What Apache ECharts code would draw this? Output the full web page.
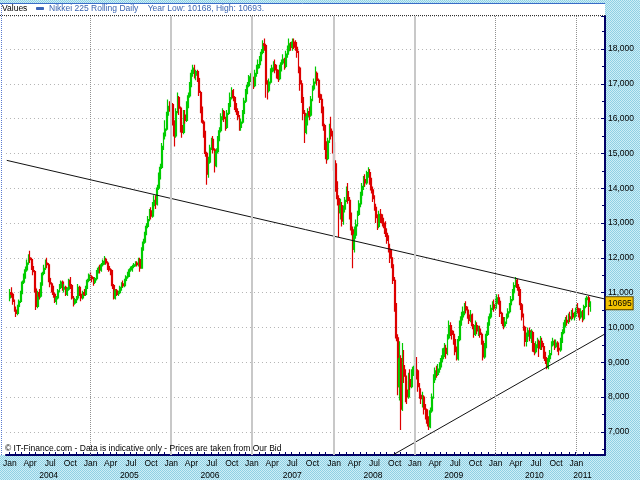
<!DOCTYPE html>
<html><head><meta charset="utf-8">
<script src="https://cdn.jsdelivr.net/npm/echarts@6/dist/echarts.min.js"></script>
<style>html,body{margin:0;padding:0;background:#fff}#c{width:640px;height:480px}</style>
</head><body><div id="c"></div>
<script>
// ---- text ----
const axisTitle = 'Values';
const seriesName = 'Nikkei 225 Rolling Daily';
const legendInfo = 'Year Low: 10168, High: 10693.';
const footer = '\u00A9 IT-Finance.com - Data is indicative only - Prices are taken from Our Bid';
const monthNames = ['Jan','Feb','Mar','Apr','May','Jun','Jul','Aug','Sep','Oct','Nov','Dec'];
const labelMonths = [0,3,6,9];
// ---- axis ----
const firstWeek = '2003-12-22';
const weekCount = 386;
const leadingEmpty = 2;
const yMin = 6333, yMax = 18948, yStep = 1000;
const solidGridYears = [2006,2007,2008,2009];
const dottedGridYears = [2005,2010,2011];
// ---- weekly OHLC  [open, close, low, high] ----
const w2004 = [[10850,11000,10750,11100],[11000,10950,10850,11150],[10950,10750,10650,11000],[10750,10500,10450,10800],[10500,10400,10300,10600],[10400,10600,10350,10650],[10600,10750,10550,10800],[10750,11000,10700,11050],[11000,11300,10950,11350],[11300,11500,11250,11550],
[11500,11650,11400,11750],[11650,11850,11600,11950],[11850,12000,11800,12100],[12000,11950,11850,12200],[11950,11750,11650,12000],[11750,11600,11500,11850],[11600,11100,11000,11650],[11100,10600,10500,11150],[10600,11000,10550,11050],[11000,10900,10800,11100],
[10900,11250,10850,11300],[11250,11550,11200,11600],[11550,11700,11500,11800],[11700,11850,11650,11950],[11850,11800,11700,12000],[11800,11400,11300,11850],[11400,11250,11150,11450],[11250,11100,11000,11300],[11100,10950,10850,11200],[10950,10750,10700,11000],
[10750,10850,10650,10900],[10850,11050,10800,11100],[11050,11150,11000,11250],[11150,11300,11100,11350],[11300,11100,11050,11350],[11100,11150,11000,11250],[11150,10950,10900,11200],[10950,11100,10900,11150],[11100,11350,11050,11400],[11350,11200,11100,11450],
[11200,10850,10800,11250],[10850,10700,10600,10900],[10700,10800,10650,10850],[10800,10850,10700,10900],[10850,11150,10800,11250],[11150,10950,10900,11200],[10950,10850,10750,11000],[10850,11000,10800,11050],[11000,10950,10900,11100],[10950,11150,10900,11200],
[11150,11350,11100,11400],[11350,11500,11300,11550]];
const w2005 = [[11500,11450,11350,11600],[11450,11400,11300,11500],[11400,11300,11200,11450],[11300,11400,11250,11450],[11400,11600,11350,11650],[11600,11700,11550,11750],[11700,11650,11550,11800],[11650,11800,11600,11850],[11800,11900,11750,11950],[11900,11950,11800,12050],
[11950,11850,11800,12000],[11850,11750,11650,11900],[11750,11650,11600,11800],[11650,11600,11500,11700],[11600,11200,11100,11650],[11200,10850,10800,11250],[10850,11050,10800,11100],[11050,10950,10900,11100],[10950,11000,10900,11050],[11000,11150,10950,11200],
[11150,11250,11050,11300],[11250,11200,11150,11350],[11200,11350,11150,11400],[11350,11450,11300,11500],[11450,11550,11400,11600],[11550,11650,11450,11700],[11650,11700,11600,11750],[11700,11750,11600,11800],[11750,11800,11700,11850],[11800,11850,11750,11900],
[11850,11800,11750,11900],[11800,11950,11750,12000],[11950,11700,11600,12000],[11700,12250,11700,12300],[12250,12450,12200,12550],[12450,12700,12400,12750],[12700,12900,12650,13000],[12900,13100,12850,13200],[13100,13350,13050,13400],[13350,13200,13100,13450],
[13200,13500,13150,13600],[13500,13650,13300,13800],[13650,13550,13400,13800],[13550,14000,13500,14100],[14000,14350,13950,14450],[14350,14600,14250,14700],[14600,15200,14550,15300],[15200,15500,15100,15600],[15500,15700,15400,15950],[15700,16100,15650,16200],
[16100,16350,16000,16550],[16350,16300,16200,16500]];
const w2006 = [[16350,16400,16250,16500],[16400,15900,15800,16450],[15900,15500,15200,15950],[15500,16200,15450,16300],[16200,16600,16150,16750],[16600,16300,16100,16650],[16300,15800,15600,16350],[15800,15600,15450,15900],[15600,16100,15550,16250],[16100,15950,15850,16250],
[15950,16400,15900,16500],[16400,16650,16300,16750],[16650,16950,16600,17050],[16950,17300,16900,17400],[17300,17450,17200,17550],[17450,17250,17150,17550],[17250,17350,17100,17400],[17350,17150,17050,17400],[17150,16750,16650,17200],[16750,16300,16150,16800],
[16300,15900,15850,16350],[15900,15600,15450,15950],[15600,15000,14900,15650],[15000,14400,14100,15050],[14400,14750,14300,14900],[14750,15150,14700,15250],[15150,15400,15100,15450],[15400,15100,15000,15500],[15100,14650,14450,15150],[14650,15050,14600,15150],
[15050,15400,15000,15500],[15400,15650,15350,15750],[15650,16050,15600,16150],[16050,16200,15950,16300],[16200,16000,15900,16250],[16000,15750,15650,16050],[15750,16150,15700,16250],[16150,16350,16100,16450],[16350,16600,16300,16750],[16600,16800,16550,16900],
[16800,16600,16500,16850],[16600,16350,16250,16650],[16350,16200,16100,16450],[16200,16050,15950,16300],[16050,15750,15650,16100],[15750,15900,15650,16000],[15900,16150,15850,16250],[16150,16500,16100,16600],[16500,16750,16450,16850],[16750,16950,16700,17050],
[16950,17150,16900,17250],[17150,17200,17050,17300]];
const w2007 = [[17200,17100,17000,17350],[17100,16950,16850,17200],[16950,17300,16900,17400],[17300,17450,17200,17550],[17450,17550,17400,17700],[17550,17700,17450,17800],[17700,17900,17650,18000],[17900,18150,17850,18250],[18150,18100,17950,18300],[18100,17000,16600,18150],
[17000,16800,16550,17100],[16800,17050,16750,17150],[17050,17350,17000,17450],[17350,17450,17250,17550],[17450,17550,17350,17650],[17550,17400,17300,17700],[17400,17300,17150,17550],[17300,17150,17050,17400],[17150,17450,17100,17550],[17450,17600,17350,17700],
[17600,17700,17550,17850],[17700,17500,17400,17750],[17500,17850,17450,17950],[17850,17950,17750,18100],[17950,18150,17900,18300],[18150,18050,17950,18200],[18050,18200,17950,18300],[18200,18150,18000,18300],[18150,18050,17950,18250],[18050,17900,17750,18200],
[17900,17450,17300,17950],[17450,17000,16800,17500],[17000,16600,16450,17100],[16600,16150,15950,16700],[16150,15600,15300,16250],[15600,16050,15550,16150],[16050,16200,15800,16300],[16200,16100,15950,16350],[16100,16550,16050,16650],[16550,16850,16500,16950],
[16850,17050,16800,17150],[17050,17300,17000,17500],[17300,17100,16950,17350],[17100,16700,16600,17150],[16700,16550,16450,16800],[16550,16300,16150,16700],[16300,15800,15650,16350],[15800,15300,15100,15850],[15300,14850,14700,15350],[14850,15350,14800,15450],
[15350,15700,15300,15850],[15700,15500,15400,16050],[15500,15300,15000,15650]];
const w2008 = [[15300,14700,14500,15400],[14700,14100,13900,14800],[14100,13700,13500,14200],[13700,13300,12600,13800],[13300,13500,13100,13700],[13500,13050,12900,13600],[13050,13400,12950,13500],[13400,13650,13300,13750],[13650,13900,13600,14050],[13900,13650,13550,14150],
[13650,13200,13100,13750],[13200,12800,12650,13300],[12800,12250,11700,12900],[12250,12650,12150,12900],[12650,12950,12550,13100],[12950,13250,12900,13350],[13250,13550,13200,13650],[13550,13800,13450,13900],[13800,14050,13700,14150],[14050,14250,13950,14350],
[14250,14150,14050,14400],[14150,14400,14100,14500],[14400,14450,14300,14600],[14450,14200,14100,14550],[14200,13950,13850,14300],[13950,13700,13600,14050],[13700,13450,13350,13800],[13450,13150,13000,13550],[13150,12900,12800,13250],[12900,13250,12850,13350],
[13250,13100,13000,13400],[13100,13000,12900,13250],[13000,12950,12850,13150],[12950,12700,12600,13050],[12700,12500,12400,12850],[12500,12250,12150,12650],[12250,12000,11850,12400],[12000,11800,11700,12250],[11800,11350,11250,12000],[11350,10600,10450,11450],
[10600,9700,9600,10700],[9700,8300,8050,9800],[8300,9100,7900,9600],[9100,7650,7050,9200],[7650,8900,7600,9550],[8900,8600,8400,9350],[8600,8200,7850,8800],[8200,8000,7800,8450],[8000,8500,7950,8700],[8500,8300,8200,8800],
[8300,8650,8250,8800],[8650,8850,8600,8900]];
const w2009 = [[8850,9050,8750,9350],[9050,8750,8500,9150],[8750,8300,8150,8800],[8300,8050,7950,8400],[8050,7950,7800,8250],[7950,8000,7700,8150],[8000,7650,7500,8050],[7650,7500,7350,7800],[7500,7250,7150,7650],[7250,7150,7050,7450],
[7150,7600,7100,7700],[7600,8000,7550,8100],[8000,8500,7950,8650],[8500,8750,8400,8850],[8750,8650,8550,8900],[8650,8800,8600,8950],[8800,8900,8700,9000],[8900,9100,8850,9200],[9100,9300,9000,9400],[9300,9400,9150,9550],
[9400,9250,9100,9500],[9250,9700,9200,9800],[9700,10050,9650,10200],[10050,9900,9750,10150],[9900,9800,9650,10000],[9800,9650,9500,9900],[9650,9300,9200,9750],[9300,9100,9050,9450],[9100,9650,9050,9750],[9650,10100,9600,10200],
[10100,10300,10050,10450],[10300,10450,10200,10600],[10450,10600,10350,10700],[10600,10500,10400,10750],[10500,10350,10250,10600],[10350,10200,10100,10450],[10200,10350,10150,10500],[10350,10050,9950,10400],[10050,9800,9700,10100],[9800,10050,9750,10200],
[10050,9900,9800,10150],[9900,9950,9750,10050],[9950,9800,9700,10050],[9800,9600,9500,9850],[9600,9150,9050,9650],[9150,9450,9100,9550],[9450,9800,9400,9900],[9800,10100,9750,10150],[10100,10300,10050,10400],[10300,10550,10250,10650],
[10550,10650,10500,10750],[10650,10550,10450,10800]];
const w2010 = [[10550,10700,10500,10850],[10700,10850,10650,10950],[10850,10750,10650,10950],[10750,10400,10300,10800],[10400,10200,10100,10450],[10200,10050,9950,10300],[10050,10150,10000,10300],[10150,10300,10100,10400],[10300,10450,10250,10550],[10450,10650,10400,10700],
[10650,10800,10600,10900],[10800,11000,10750,11100],[11000,11200,10950,11300],[11200,11350,11150,11450],[11350,11150,11050,11400],[11150,11050,10900,11250],[11050,10650,10500,11100],[10650,10300,10200,10700],[10300,10000,9900,10400],[10000,9600,9450,10050],
[9600,9750,9450,9850],[9750,9900,9650,10000],[9900,9700,9600,10000],[9700,9850,9550,9950],[9850,9450,9300,9900],[9450,9300,9200,9550],[9300,9500,9250,9600],[9500,9600,9400,9700],[9600,9400,9150,9650],[9400,9600,9350,9750],
[9600,9450,9350,9700],[9450,9200,9100,9550],[9200,9050,8950,9300],[9050,8850,8800,9150],[8850,9100,8800,9200],[9100,9250,9000,9350],[9250,9500,9200,9600],[9500,9600,9450,9700],[9600,9450,9350,9650],[9450,9550,9400,9650],
[9550,9400,9300,9600],[9400,9350,9200,9500],[9350,9600,9300,9700],[9600,9850,9550,9950],[9850,10050,9800,10150],[10050,10200,10000,10300],[10200,10150,10050,10350],[10150,10300,10100,10400],[10300,10250,10150,10450],[10250,10400,10200,10500],
[10400,10300,10250,10550],[10300,10350,10200,10450]];
const w2011 = [[10350,10550,10300,10650],[10550,10500,10400,10700],[10500,10300,10200,10550],[10300,10450,10250,10550],[10450,10250,10150,10500],[10250,10600,10200,10650],[10600,10800,10550,10850],[10800,10850,10700,10900],[10850,10600,10350,10900],[10600,10695,10450,10750]];
// ---- trend lines (value at start / end) ----
const upperTrend = [14800, 10820];
const lowerTrendStart = '2008-09-29';
const lowerTrend = [6340, 9800];

// ---- build ----
const weeks = [];
{
  const t0 = Date.parse(firstWeek + 'T00:00:00Z');
  for (let i = 0; i < weekCount; i++) {
    weeks.push(new Date(t0 + i * 7 * 86400000).toISOString().slice(0, 10));
  }
}
const ohlc = [].concat(w2004, w2005, w2006, w2007, w2008, w2009, w2010, w2011);
const lastIdx = leadingEmpty + ohlc.length - 1;
const candleData = weeks.map((d, i) => (i >= leadingEmpty && i <= lastIdx) ? ohlc[i - leadingEmpty] : '-');
const lastClose = ohlc[ohlc.length - 1][1];

const firstOfMonth = d => +d.slice(8, 10) <= 7;
const monthOf = d => +d.slice(5, 7) - 1;
const firstWeekOfYear = y => weeks.find(d => d.startsWith(String(y)) && firstOfMonth(d));

const yearMid = new Set();
{
  const byYear = {};
  for (let i = leadingEmpty; i <= lastIdx; i++) {
    const y = weeks[i].slice(0, 4);
    (byYear[y] = byYear[y] || []).push(i);
  }
  Object.values(byYear).forEach(a => yearMid.add(a[Math.floor((a.length - 1) / 2)]));
}

const pc = document.createElement('canvas');
pc.width = 2; pc.height = 2;
{
  const g = pc.getContext('2d');
  g.fillStyle = '#cdeef6'; g.fillRect(0, 0, 2, 2);
  g.fillStyle = '#8fd0e4'; g.fillRect(0, 0, 1, 1); g.fillRect(1, 1, 1, 1);
}

const FONT = 'Liberation Sans';
const FS = 8.5;

const gridMarks = [];
solidGridYears.forEach(y => gridMarks.push({xAxis: firstWeekOfYear(y), lineStyle: {color: '#c8c8c8', width: 2, type: 'solid'}}));
dottedGridYears.forEach(y => gridMarks.push({xAxis: firstWeekOfYear(y), lineStyle: {color: '#909090', width: 1, type: 'dotted'}}));

const chart = echarts.init(document.getElementById('c'), null, {renderer: 'canvas'});
chart.setOption({
  animation: false,
  backgroundColor: {image: pc, repeat: 'repeat'},
  textStyle: {fontFamily: FONT},
  graphic: [
    {type: 'rect', z: -100, shape: {x: 0, y: 3, width: 605, height: 452}, style: {fill: '#ffffff'}},
    {type: 'line', z: 10, shape: {x1: 0, y1: 3.5, x2: 605, y2: 3.5}, style: {stroke: '#3a6cc8', lineWidth: 1}},
    {type: 'line', z: 10, shape: {x1: 0, y1: 15.5, x2: 605, y2: 15.5}, style: {stroke: '#333333', lineWidth: 1, lineDash: [1, 1]}},
    {type: 'line', z: 10, shape: {x1: 1.5, y1: 4, x2: 1.5, y2: 455}, style: {stroke: '#5a7cd0', lineWidth: 1, lineDash: [1, 1]}}
  ],
  title: [
    {text: axisTitle, left: 2, top: 4, padding: 0, textStyle: {fontSize: FS, fontWeight: 'normal', color: '#000', fontFamily: FONT}},
    {text: footer, left: 5, top: 444, padding: 0, textStyle: {fontSize: FS, fontWeight: 'normal', color: '#000', fontFamily: FONT}}
  ],
  legend: {
    left: 36, top: 4, padding: 0, itemGap: 4,
    itemWidth: 8, itemHeight: 3,
    data: [{name: seriesName, icon: 'roundRect', itemStyle: {color: '#3a64b8', borderWidth: 0}}],
    formatter: n => n + '    ' + legendInfo,
    textStyle: {fontSize: FS, color: '#3a64b0', fontFamily: FONT, padding: [0, 0, 0, 0]},
    selectedMode: false
  },
  grid: {left: 3, right: 35, top: 16, bottom: 25, show: false},
  xAxis: [
    {
      type: 'category', data: weeks, boundaryGap: true,
      axisLine: {show: true, lineStyle: {color: '#000066', width: 2}},
      axisTick: {show: true, inside: true, length: 3, lineStyle: {color: '#000066'},
        interval: (i, v) => i <= lastIdx && firstOfMonth(v)},
      axisLabel: {
        interval: (i, v) => i <= lastIdx && firstOfMonth(v) && labelMonths.includes(monthOf(v)),
        formatter: v => monthNames[monthOf(v)],
        fontSize: FS, color: '#000', margin: 4, fontFamily: FONT
      },
      splitLine: {show: false}
    },
    {
      type: 'category', data: weeks, boundaryGap: true, position: 'bottom', offset: 12,
      axisLine: {show: false}, axisTick: {show: false},
      axisLabel: {
        interval: (i) => yearMid.has(i),
        formatter: v => v.slice(0, 4),
        fontSize: FS, color: '#000', margin: 4, fontFamily: FONT
      },
      splitLine: {show: false}
    }
  ],
  yAxis: {
    type: 'value', position: 'right', min: yMin, max: yMax,
    minInterval: yStep, maxInterval: yStep, splitNumber: 12,
    axisLine: {show: true, lineStyle: {color: '#000066', width: 2}},
    axisTick: {show: true, inside: true, length: 4, lineStyle: {color: '#000066'}},
    minorTick: {show: true, splitNumber: 2, length: 3, lineStyle: {color: '#000066'}},
    axisLabel: {showMinLabel: false, showMaxLabel: false, fontSize: FS, color: '#000', margin: 3, fontFamily: FONT},
    splitLine: {show: true, lineStyle: {color: '#b4b4b4', width: 1, type: [1, 3]}}
  },
  series: [
    {
      type: 'line', name: 'grid', data: [], z: 1, silent: true,
      markLine: {symbol: 'none', silent: true, animation: false, label: {show: false}, data: gridMarks}
    },
    {
      type: 'candlestick', name: seriesName, data: candleData, z: 3,
      barWidth: 1.4,
      itemStyle: {color: '#00cc00', color0: '#dd0000', borderColor: '#00cc00', borderColor0: '#dd0000', borderWidth: 1.2}
    },
    {
      type: 'line', name: 'trendUpper', data: [[weeks[0], upperTrend[0]], [weeks[weeks.length - 1], upperTrend[1]]],
      symbol: 'none', silent: true, z: 4, lineStyle: {color: '#111', width: 1},
      markLine: {
        symbol: 'none', silent: true, animation: false,
        lineStyle: {color: 'rgba(0,0,0,0)', width: 0},
        label: {show: true, position: 'end', distance: 1, formatter: String(lastClose),
          backgroundColor: '#f2c200', borderColor: '#5a4400', borderWidth: 1, padding: [2, 1, 1, 2],
          color: '#000', fontSize: FS, fontFamily: FONT},
        data: [{yAxis: lastClose}]
      }
    },
    {
      type: 'line', name: 'trendLower', data: [[lowerTrendStart, lowerTrend[0]], [weeks[weeks.length - 1], lowerTrend[1]]],
      symbol: 'none', silent: true, z: 4, lineStyle: {color: '#111', width: 1}
    }
  ]
});
</script>
</body></html>
